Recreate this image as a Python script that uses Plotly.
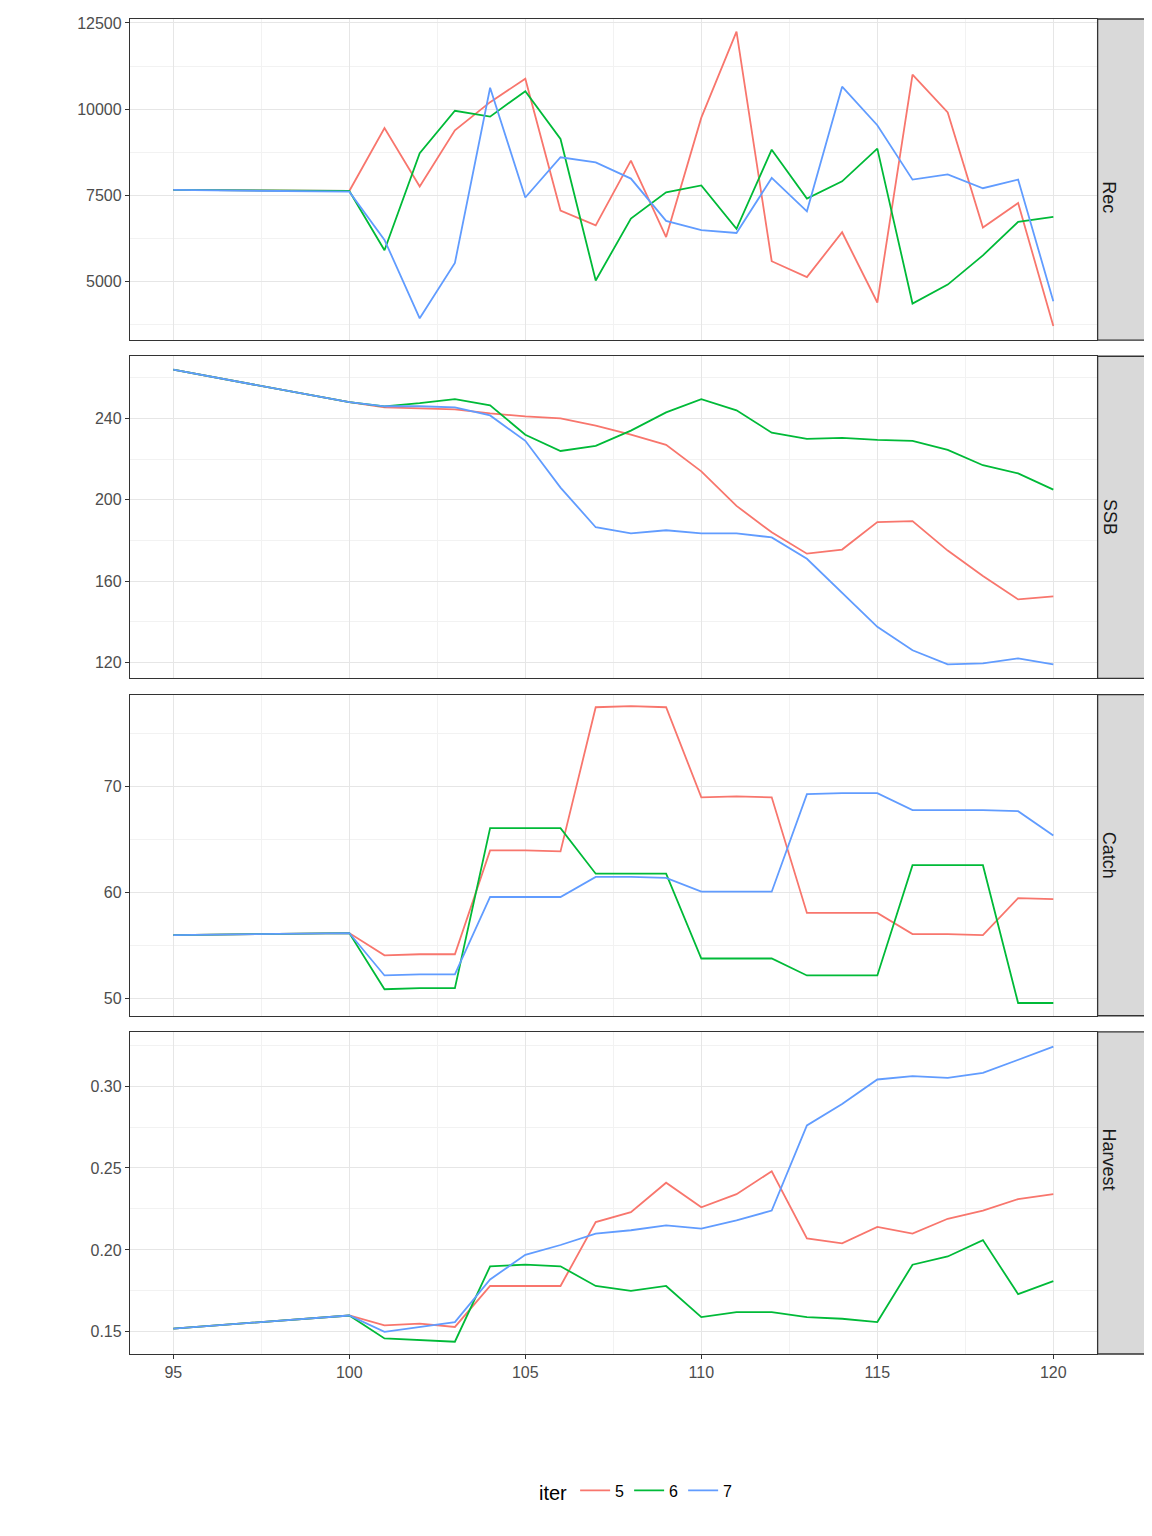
import plotly.graph_objects as go

years = [95, 100, 101, 102, 103, 104, 105, 106, 107, 108, 109, 110, 111, 112, 113, 114, 115, 116, 117, 118, 119, 120]
iters = ["5", "6", "7"]
colors = ["#F8766D", "#00BA38", "#619CFF"]
panels = ["Rec", "SSB", "Catch", "Harvest"]

rec_5 = [7650, 7620, 9450, 7750, 9380, 10200, 10880, 7050, 6620, 8500, 6280, 9750, 12250, 5580, 5120, 6420, 4380, 11000, 9900, 6560, 7270, 3700]
rec_6 = [7650, 7620, 5900, 8720, 9950, 9780, 10520, 9130, 5020, 6820, 7580, 7780, 6520, 8820, 7400, 7900, 8850, 4350, 4900, 5750, 6720, 6870]
rec_7 = [7650, 7600, 6200, 3920, 5530, 10620, 7430, 8600, 8450, 7980, 6750, 6480, 6400, 8000, 7030, 10650, 9530, 7950, 8100, 7700, 7950, 4420]

ssb_5 = [264, 248, 245.5, 245, 244.5, 242.5, 241, 240, 236.5, 232, 227, 214, 197, 184, 173.5, 175.5, 189, 189.5, 175, 162.5, 151, 152.5]
ssb_6 = [264, 248, 246, 247.5, 249.5, 246.5, 232, 224, 226.5, 234, 243, 249.5, 244, 233, 230, 230.5, 229.5, 229, 224.5, 217, 213, 205]
ssb_7 = [264, 248, 246, 246, 245.5, 241.5, 229, 206, 186.5, 183.5, 185, 183.5, 183.5, 181.5, 171, 154, 137.5, 126, 119, 119.5, 122, 119]

catch_5 = [56, 56.2, 54.1, 54.2, 54.2, 64, 64, 63.9, 77.5, 77.6, 77.5, 69, 69.1, 69, 58.1, 58.1, 58.1, 56.1, 56.1, 56, 59.5, 59.4]
catch_6 = [56, 56.2, 50.9, 51, 51, 66.1, 66.1, 66.1, 61.8, 61.8, 61.8, 53.8, 53.8, 53.8, 52.2, 52.2, 52.2, 62.6, 62.6, 62.6, 49.6, 49.6]
catch_7 = [56, 56.2, 52.2, 52.3, 52.3, 59.6, 59.6, 59.6, 61.5, 61.5, 61.4, 60.1, 60.1, 60.1, 69.3, 69.4, 69.4, 67.8, 67.8, 67.8, 67.7, 65.4]

harv_5 = [0.152, 0.160, 0.154, 0.155, 0.153, 0.178, 0.178, 0.178, 0.217, 0.223, 0.241, 0.226, 0.234, 0.248, 0.207, 0.204, 0.214, 0.210, 0.219, 0.224, 0.231, 0.234]
harv_6 = [0.152, 0.160, 0.146, 0.145, 0.144, 0.190, 0.191, 0.190, 0.178, 0.175, 0.178, 0.159, 0.162, 0.162, 0.159, 0.158, 0.156, 0.191, 0.196, 0.206, 0.173, 0.181]
harv_7 = [0.152, 0.160, 0.150, 0.153, 0.156, 0.182, 0.197, 0.203, 0.210, 0.212, 0.215, 0.213, 0.218, 0.224, 0.276, 0.289, 0.304, 0.306, 0.305, 0.308, 0.316, 0.324]

data = [[rec_5, rec_6, rec_7], [ssb_5, ssb_6, ssb_7], [catch_5, catch_6, catch_7], [harv_5, harv_6, harv_7]]

H = 1330.0
domains = [((1346 - 336) / H, 1.0), ((1346 - 673) / H, (1346 - 352) / H),
           ((1346 - 1009) / H, (1346 - 689) / H), (0.0, (1346 - 1025) / H)]
yranges = [[3285, 12616], [112.1, 270.6], [48.4, 78.7], [0.1365, 0.3331]]
dticks = [2500, 40, 10, 0.05]
tickfmt = ["d", "d", "d", ".2f"]
xdom_end = 959 / 1007

fig = go.Figure()
for p in range(4):
    for i in range(3):
        fig.add_trace(go.Scatter(
            x=years, y=data[p][i], mode="lines", name=iters[i],
            line=dict(color=colors[i], width=1.8),
            xaxis="x" if p == 0 else f"x{p+1}", yaxis="y" if p == 0 else f"y{p+1}",
            legendgroup=iters[i], showlegend=(p == 0)))

layout = dict(width=1144, height=1528, plot_bgcolor="white", paper_bgcolor="white",
              margin=dict(l=122, r=7, t=8, b=182),
              font=dict(family="Liberation Sans, Arial", color="#4d4d4d", size=16),
              legend=dict(orientation="h", x=0.5, xanchor="center", y=-0.103, yanchor="middle",
                          title=dict(text="iter", font=dict(size=20, color="black")),
                          font=dict(size=16, color="black")),
              shapes=[], annotations=[])

for p in range(4):
    sfx = "" if p == 0 else str(p + 1)
    layout["xaxis" + sfx] = dict(
        domain=[0, xdom_end], range=[93.77, 121.23], anchor="y" + sfx,
        tickvals=[95, 100, 105, 110, 115, 120], showticklabels=(p == 3),
        showgrid=True, gridcolor="#e6e6e6", gridwidth=1.4, zeroline=False,
        showline=True, mirror=True, linecolor="#333333", linewidth=1.3,
        ticks="outside" if p == 3 else "", ticklen=4, tickcolor="#333333",
        minor=dict(dtick=2.5, tick0=95, showgrid=True, gridcolor="#f2f2f2", gridwidth=0.8),
        matches=None if p == 0 else "x")
    layout["yaxis" + sfx] = dict(
        domain=list(domains[p]), range=yranges[p], anchor="x" + sfx,
        dtick=dticks[p], tickformat=tickfmt[p],
        showgrid=True, gridcolor="#e6e6e6", gridwidth=1.4, zeroline=False,
        showline=True, mirror=True, linecolor="#333333", linewidth=1.3,
        ticks="outside", ticklen=4, tickcolor="#333333",
        minor=dict(dtick=dticks[p] / 2, showgrid=True, gridcolor="#f2f2f2", gridwidth=0.8))
    layout["shapes"].append(dict(type="rect", xref="paper", yref="paper",
                                 x0=960 / 1007, x1=1.0, y0=domains[p][0], y1=domains[p][1],
                                 fillcolor="#d9d9d9", line=dict(color="#333333", width=1.3)))
    layout["annotations"].append(dict(xref="paper", yref="paper", x=(960 / 1007 + 1) / 2,
                                      y=(domains[p][0] + domains[p][1]) / 2, text=panels[p],
                                      textangle=90, showarrow=False,
                                      font=dict(size=18, color="#1a1a1a")))

fig.update_layout(**layout)
fig.write_html("out.html")
